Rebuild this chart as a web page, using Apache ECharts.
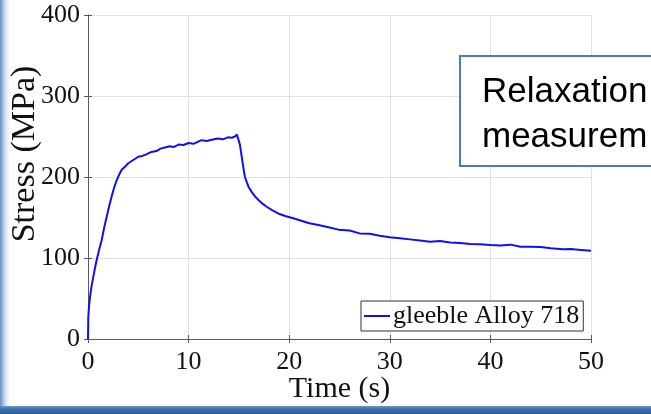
<!DOCTYPE html>
<html>
<head>
<meta charset="utf-8">
<script src="https://cdn.jsdelivr.net/npm/echarts@6/dist/echarts.min.js"></script>
<style>
  html, body { margin: 0; padding: 0; background: #ffffff; }
  #chart { width: 651px; height: 414px; }
</style>
</head>
<body>
<div id="chart"></div>
<script>
// Gleeble stress-relaxation record for Alloy 718: loading ramp, hold at ~15 s, then relaxation.
const seriesName = 'gleeble Alloy 718';
const timeSec = [
  0, 0.03, 0.1, 0.2, 0.35, 0.53, 0.7, 0.86, 1.1, 1.36, 1.6, 1.86, 2.1, 2.35, 2.6, 2.85, 3.1, 3.35,
  3.7, 4.0, 4.5, 5.0, 5.4, 5.8, 6.3, 6.8, 7.2, 7.65, 8.1, 8.5, 9.0, 9.5, 10.0, 10.5, 11.0, 11.3,
  11.8, 12.3, 12.9, 13.4, 13.9, 14.3, 14.6, 14.8, 14.95,
  15.1, 15.28, 15.45, 15.6, 15.8, 15.95, 16.3, 16.6, 17.0, 17.3, 17.8, 18.3, 18.9, 19.6, 20.4,
  21.2, 22.0, 22.9, 23.9, 24.9, 26.0, 27.0, 28.0, 29.0, 30.0, 31.0, 32.0, 33.0, 34.0, 35.0,
  36.0, 37.0, 38.0, 39.0, 40.0, 41.0, 42.0, 43.0, 43.9, 45.0, 46.0, 47.2, 48.0, 49.0, 50.0
];
const stressMPa = [
  0, 27, 40, 52, 65, 77, 88, 97.5, 110, 122, 137, 151, 164, 176, 187, 196, 203, 209,
  213, 217, 221, 225, 226, 228, 231, 232, 235, 236.5, 238, 237, 240, 239.5, 242, 241, 244, 245.5,
  244.5, 246, 247.5, 246.5, 249, 248.5, 250, 252.5, 252,
  240, 225, 211, 200, 193, 188, 181, 176, 171, 167.5, 163, 159, 155, 151.8, 149,
  146, 143, 140.7, 138, 135, 134, 130.4, 130, 127.5, 125.5, 124.5, 123, 121.5, 120, 121,
  119, 118.5, 117.3, 117, 116, 115.5, 116.5, 114, 114, 113.5, 112, 110.7, 111, 110, 109
];
const xTicks = [0, 10, 20, 30, 40, 50];
const yTicks = [0, 100, 200, 300, 400];
const xLabel = 'Time (s)';
const yLabel = 'Stress (MPa)';
const noteLines = ['Relaxation', 'measurem'];

const points = timeSec.map((t, i) => [t, stressMPa[i]]);
const serif = 'Liberation Serif';
const lineBlue = '#1010ee';
const noteFont = '35px "Liberation Sans", Arial, sans-serif';

const chart = echarts.init(document.getElementById('chart'), null, { renderer: 'canvas' });

const axisCommon = {
  axisLine: { show: true, onZero: false, lineStyle: { color: '#5a5a5a', width: 1 } },
  axisTick: { show: true, inside: true, length: 4, lineStyle: { color: '#5a5a5a' } },
  splitLine: { show: true, lineStyle: { color: '#e2e2e2', width: 1 } },
  axisLabel: { color: '#111', fontFamily: serif, fontSize: 26 },
  nameTextStyle: { color: '#111', fontFamily: serif, fontSize: 30 },
  nameMoveOverlap: false
};

const frameAxis = {
  axisLine: { show: true, lineStyle: { color: '#5a5a5a' } },
  axisTick: { show: true, inside: true, length: 4, lineStyle: { color: '#5a5a5a' } },
  axisLabel: { show: false }, splitLine: { show: false }
};

chart.setOption({
  backgroundColor: '#ffffff',
  animation: false,
  grid: { left: 88, top: 15, right: 60, bottom: 75, show: false, containLabel: false, outerBoundsMode: 'none' },
  xAxis: [
    Object.assign({}, axisCommon, {
      type: 'value', min: xTicks[0], max: xTicks[xTicks.length - 1], interval: 10,
      name: xLabel, nameLocation: 'middle', nameGap: 35,
      axisLabel: Object.assign({}, axisCommon.axisLabel, { margin: 10 })
    }),
    Object.assign({ type: 'value', position: 'top', min: 0, max: 50, interval: 10 }, frameAxis)
  ],
  yAxis: [
    Object.assign({}, axisCommon, {
      type: 'value', min: yTicks[0], max: yTicks[yTicks.length - 1], interval: 100,
      name: yLabel, nameLocation: 'middle', nameGap: 46,
      nameTextStyle: Object.assign({}, axisCommon.nameTextStyle, { fontSize: 34, padding: [0, 0, 0, 46] }),
      axisLabel: Object.assign({}, axisCommon.axisLabel, { margin: 8 })
    }),
    Object.assign({ type: 'value', position: 'right', min: 0, max: 400, interval: 100 }, frameAxis)
  ],
  legend: {
    show: true,
    left: 361, top: 301,
    orient: 'horizontal',
    padding: [2, 4, 2, 3],
    itemWidth: 26, itemHeight: 2, itemGap: 4,
    borderColor: '#333', borderWidth: 1, backgroundColor: '#fff',
    icon: 'rect',
    itemStyle: { color: lineBlue },
    textStyle: { color: '#111', fontFamily: serif, fontSize: 26, padding: [0, 0, 0, -2] },
    data: [seriesName]
  },
  series: [{
    name: seriesName,
    type: 'line',
    data: points,
    showSymbol: false,
    symbol: 'none',
    lineStyle: { color: lineBlue, width: 2 },
    itemStyle: { color: lineBlue },
    z: 3
  }],
  graphic: [
    // slide frame: blue fade along the left edge and a band along the bottom
    {
      type: 'rect', z: -10, silent: true,
      shape: { x: 0, y: 0, width: 12, height: 414 },
      style: { fill: new echarts.graphic.LinearGradient(0, 0, 1, 0, [
        { offset: 0, color: 'rgba(70,120,180,0.85)' },
        { offset: 0.45, color: 'rgba(120,160,210,0.35)' },
        { offset: 1, color: 'rgba(255,255,255,0)' }
      ]) }
    },
    {
      type: 'rect', z: -10, silent: true,
      shape: { x: 0, y: 406, width: 651, height: 8 },
      style: { fill: new echarts.graphic.LinearGradient(0, 0, 0, 1, [
        { offset: 0, color: '#6d97c6' },
        { offset: 0.4, color: '#3d6fa8' },
        { offset: 1, color: '#2c5d96' }
      ]) }
    },
    // callout box that runs off the right edge
    {
      type: 'rect', z: 100, zlevel: 1,
      shape: { x: 460, y: 56, width: 230, height: 110 },
      style: { fill: '#ffffff', stroke: '#4a7ebb', lineWidth: 2 }
    },
    {
      type: 'text', z: 101, zlevel: 1, x: 482, y: 75,
      style: { text: noteLines[0], fill: '#000', font: noteFont }
    },
    {
      type: 'text', z: 101, zlevel: 1, x: 482, y: 120,
      style: { text: noteLines[1], fill: '#000', font: noteFont }
    }
  ]
});
</script>
</body>
</html>
